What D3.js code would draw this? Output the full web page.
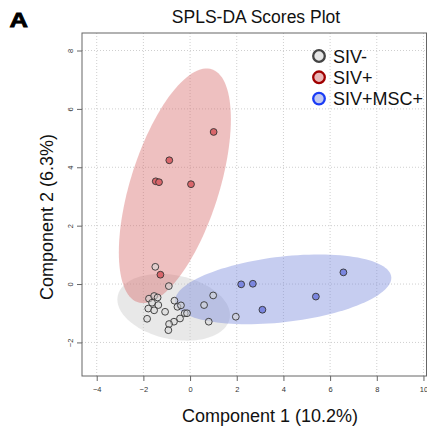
<!DOCTYPE html>
<html>
<head>
<meta charset="utf-8">
<script src="https://cdn.jsdelivr.net/npm/d3@7"></script>
<style>
  body { margin: 0; background: #fff; }
  svg text { font-family: "Liberation Sans", Arial, Helvetica, sans-serif; }
</style>
</head>
<body>
<svg id="chart" width="427" height="431"></svg>
<script>
// groups and their scores (component 1, component 2)
var groups = ["SIV-", "SIV+", "SIV+MSC+"];

var sivNegX = [-1.49, -0.91, 0.99, 0.60, 0.80, 1.96, -1.76, -1.54, -1.39, -1.63, -1.36, -1.79,
               -1.54, -1.84, -1.07, -0.67, -0.54, -0.39, -0.43, -0.23, -0.13, -0.69, -0.90, -0.93];
var sivNegY = [0.59, -0.07, -0.39, -0.72, -1.29, -1.12, -0.50, -0.41, -0.46, -0.64, -0.72, -0.84,
               -0.90, -1.19, -0.95, -0.57, -0.78, -0.73, -1.18, -1.00, -1.00, -1.29, -1.37, -1.58];

var sivPosX = [1.01, -0.89, -1.47, -1.33, 0.04, -1.27];
var sivPosY = [5.21, 4.24, 3.52, 3.49, 3.42, 0.32];

var mscX = [2.19, 2.69, 6.57, 5.39, 3.10];
var mscY = [-0.01, 0.01, 0.40, -0.43, -0.88];

var xTicks = [-4, -2, 0, 2, 4, 6, 8, 10];
var yTicks = [-2, 0, 2, 4, 6, 8];

var seriesX = [sivNegX, sivPosX, mscX];
var seriesY = [sivNegY, sivPosY, mscY];

var ellipseFill = ["rgba(200,200,200,0.42)", "rgba(215,105,105,0.42)", "rgba(120,135,220,0.42)"];
var pointFill = ["rgba(215,215,215,0.55)", "#d9666b", "#7b86df"];
var legendFill = ["#e6e6e6", "#e9b6b7", "#c3c9f0"];
var legendStroke = ["#444", "#a00000", "#1a3cf5"];

var svg = d3.select("#chart");
var pLeft = 82, pRight = 426.5, pTop = 33, pBottom = 376;

var x = d3.scaleLinear().domain([-4.63, 10.13]).range([pLeft, pRight]);
var y = d3.scaleLinear().domain([-3.15, 8.6]).range([pBottom, pTop]);

// grid
svg.append("g").selectAll("line").data(xTicks).join("line")
  .attr("x1", d => x(d)).attr("x2", d => x(d))
  .attr("y1", pTop).attr("y2", pBottom)
  .attr("stroke", "#cfcfcf").attr("stroke-dasharray", "1,2");
svg.append("g").selectAll("line").data(yTicks).join("line")
  .attr("y1", d => y(d)).attr("y2", d => y(d))
  .attr("x1", pLeft).attr("x2", pRight)
  .attr("stroke", "#cfcfcf").attr("stroke-dasharray", "1,2");

svg.append("clipPath").attr("id", "clip").append("rect")
  .attr("x", pLeft).attr("y", pTop).attr("width", pRight - pLeft).attr("height", pBottom - pTop);

var plot = svg.append("g").attr("clip-path", "url(#clip)");

// 95% confidence ellipse from each group's covariance
function ellipsePts(xs, ys) {
  var n = xs.length, mx = d3.mean(xs), my = d3.mean(ys);
  var sxx = 0, syy = 0, sxy = 0;
  for (var i = 0; i < n; i++) {
    sxx += (xs[i] - mx) * (xs[i] - mx);
    syy += (ys[i] - my) * (ys[i] - my);
    sxy += (xs[i] - mx) * (ys[i] - my);
  }
  sxx /= (n - 1); syy /= (n - 1); sxy /= (n - 1);
  var tr = sxx + syy, det = sxx * syy - sxy * sxy;
  var l1 = tr / 2 + Math.sqrt(tr * tr / 4 - det);
  var l2 = tr / 2 - Math.sqrt(tr * tr / 4 - det);
  var ang = Math.atan2(l1 - sxx, sxy);
  if (Math.abs(sxy) < 1e-12) ang = sxx >= syy ? 0 : Math.PI / 2;
  var k = Math.sqrt(5.991);
  var a = k * Math.sqrt(l1), b = k * Math.sqrt(Math.max(l2, 0));
  var pts = [];
  for (var t = 0; t < 120; t++) {
    var th = t / 120 * 2 * Math.PI;
    var ex = a * Math.cos(th), ey = b * Math.sin(th);
    pts.push([x(mx + ex * Math.cos(ang) - ey * Math.sin(ang)),
              y(my + ex * Math.sin(ang) + ey * Math.cos(ang))]);
  }
  return pts;
}

groups.forEach(function(g, i) {
  plot.append("path")
    .attr("d", d3.line().curve(d3.curveLinearClosed)(ellipsePts(seriesX[i], seriesY[i])))
    .attr("fill", ellipseFill[i]);
});

groups.forEach(function(g, i) {
  plot.append("g").selectAll("circle").data(d3.range(seriesX[i].length)).join("circle")
    .attr("cx", j => x(seriesX[i][j]))
    .attr("cy", j => y(seriesY[i][j]))
    .attr("r", 3.4)
    .attr("fill", pointFill[i])
    .attr("stroke", "#333").attr("stroke-width", 0.9);
});

// frame
svg.append("rect").attr("x", pLeft).attr("y", pTop)
  .attr("width", pRight - pLeft).attr("height", pBottom - pTop)
  .attr("fill", "none").attr("stroke", "#666").attr("stroke-width", 1);

// axes
var xAxis = svg.append("g").attr("transform", "translate(0," + pBottom + ")")
  .call(d3.axisBottom(x).tickValues(xTicks).tickSize(5).tickPadding(6));
var yAxis = svg.append("g").attr("transform", "translate(" + pLeft + ",0)")
  .call(d3.axisLeft(y).tickValues(yTicks).tickSize(5).tickPadding(6));
[xAxis, yAxis].forEach(function(ax) {
  ax.select(".domain").remove();
  ax.selectAll("line").attr("stroke", "#666");
  ax.selectAll("text").attr("font-size", 7.5).attr("fill", "#333")
    .attr("font-family", "Liberation Sans, Arial, sans-serif");
});
yAxis.selectAll("text")
  .attr("x", 0).attr("y", 0).attr("dy", "0")
  .attr("text-anchor", "middle")
  .attr("transform", "translate(-9.5,0) rotate(-90)");

// titles
svg.append("text").attr("x", 256).attr("y", 23).attr("text-anchor", "middle")
  .attr("font-size", 17.5).attr("fill", "#111").text("SPLS-DA Scores Plot");
svg.append("text").attr("x", 9.5).attr("y", 26.5).attr("font-size", 21).attr("font-weight", 900)
  .attr("stroke", "#000").attr("stroke-width", 0.8)
  .attr("textLength", 18.5).attr("lengthAdjust", "spacingAndGlyphs").attr("fill", "#000").text("A");
svg.append("text").attr("x", 270).attr("y", 422).attr("text-anchor", "middle")
  .attr("font-size", 18).attr("fill", "#111").text("Component 1 (10.2%)");
svg.append("text").attr("transform", "translate(53,217) rotate(-90)").attr("text-anchor", "middle")
  .attr("font-size", 18).attr("fill", "#111").text("Component 2 (6.3%)");

// legend
var legend = svg.append("g");
groups.forEach(function(g, i) {
  legend.append("circle").attr("cx", 319).attr("cy", 56 + i * 21.3).attr("r", 5.8)
    .attr("fill", legendFill[i]).attr("stroke", legendStroke[i]).attr("stroke-width", 2.3);
  legend.append("text").attr("x", 333).attr("y", 62.5 + i * 21.3)
    .attr("font-size", 18).attr("fill", "#111").text(g);
});
</script>
</body>
</html>
